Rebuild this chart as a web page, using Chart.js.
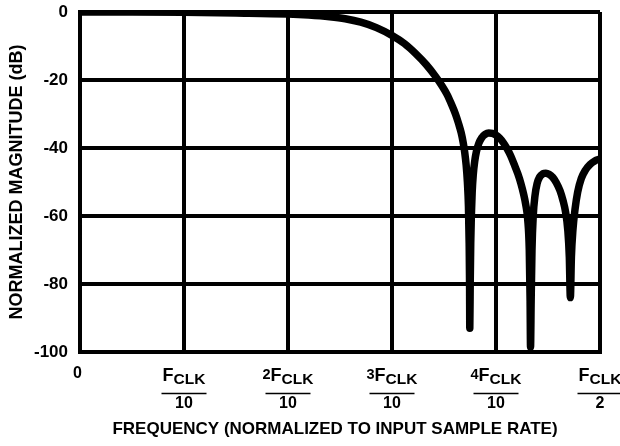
<!DOCTYPE html>
<html><head><meta charset="utf-8">
<script src="https://cdn.jsdelivr.net/npm/chart.js@4/dist/chart.umd.min.js"></script>
<style>html,body{margin:0;padding:0;background:#fff}#wrap{width:620px;height:446px}</style>
</head><body><div id="wrap"><canvas id="c" width="620" height="446"></canvas></div>
<script>
// Normalized frequency (fraction of FCLK) and magnitude in dB
const freq = [0, 0.05, 0.1, 0.15, 0.2, 0.22, 0.24, 0.255, 0.27, 0.285, 0.3, 0.312, 0.323, 0.333,
  0.342, 0.348, 0.353, 0.357, 0.361, 0.364, 0.3665, 0.3685, 0.37, 0.3713, 0.3725, 0.3735, 0.3742, 0.3746, 0.3748,
  0.3752, 0.3757, 0.3763, 0.3771, 0.3781, 0.3795, 0.3812, 0.3835, 0.3862, 0.3895, 0.393, 0.3965, 0.4, 0.4035,
  0.407, 0.4105, 0.414, 0.4175, 0.421, 0.424, 0.4265, 0.4285, 0.4305, 0.432, 0.4328, 0.4332,
  0.4338, 0.4346, 0.4358, 0.4375, 0.4395, 0.442, 0.445, 0.448, 0.451, 0.4545, 0.458, 0.4615, 0.4645, 0.467,
  0.469, 0.4705, 0.4715, 0.4725, 0.474, 0.476, 0.4785, 0.482, 0.486, 0.4905, 0.495, 0.5];
const magnitude = [0, 0, -0.1, -0.3, -0.6, -0.9, -1.4, -2.0, -3.0, -4.6, -6.9, -9.3, -12.3, -15.5,
  -19, -21.7, -24.3, -27, -30, -32.8, -35.5, -38.5, -41.5, -45, -50, -57, -68, -80, -93,
  -80, -68, -60, -53, -48, -44, -41, -38.6, -37, -36, -35.6, -35.7, -36.2, -37.1,
  -38.4, -40.1, -42.2, -44.8, -47.6, -50.5, -53.5, -56.5, -61, -70, -85, -98.5,
  -85, -70, -60, -54, -50.5, -48.5, -47.6, -47.4, -47.7, -48.6, -50.2, -52.5, -55.5, -59,
  -64, -72, -84, -72, -64, -58, -53, -49, -46.5, -44.8, -43.8, -43.2];
const yTickStep = 20;
const yMin = -100, yMax = 0;
const xTickValues = [0, 0.1, 0.2, 0.3, 0.4, 0.5];
const xTickPrefix = ['0', '', '2', '3', '4', ''];
const xTickDenominators = ['', '10', '10', '10', '10', '2'];
const xTitle = 'FREQUENCY (NORMALIZED TO INPUT SAMPLE RATE)';
const yTitle = 'NORMALIZED MAGNITUDE (dB)';

const FAM = '"Liberation Sans", Arial, Helvetica, sans-serif';

const fracLabels = {
  id: 'fracLabels',
  afterDraw(chart) {
    const ctx = chart.ctx, xs = chart.scales.x;
    ctx.save();
    ctx.fillStyle = '#000';
    ctx.strokeStyle = '#000';
    ctx.textBaseline = 'alphabetic';
    xTickValues.forEach((v, i) => {
      const cx = xs.getPixelForValue(v);
      if (xTickDenominators[i] === '') {
        ctx.font = 'bold 16px ' + FAM;
        ctx.textAlign = 'center';
        ctx.fillText(xTickPrefix[i], cx - 2.5, 378);
        return;
      }
      const pre = xTickPrefix[i];
      const fPre = 'bold 14.5px ' + FAM, fF = 'bold 18px ' + FAM, fSub = 'bold 15.5px ' + FAM;
      ctx.font = fPre; const wPre = pre ? ctx.measureText(pre).width : 0;
      ctx.font = fF; const wF = ctx.measureText('F').width;
      ctx.font = fSub; const wSub = ctx.measureText('CLK').width;
      const total = wPre + wF + wSub;
      let x = cx - total / 2;
      ctx.textAlign = 'left';
      if (pre) { ctx.font = fPre; ctx.fillText(pre, x, 379); x += wPre; }
      ctx.font = fF; ctx.fillText('F', x, 381); x += wF;
      ctx.font = fSub; ctx.fillText('CLK', x, 384);
      ctx.lineWidth = 1.5;
      ctx.beginPath();
      ctx.moveTo(cx - 22.5, 393.5); ctx.lineTo(cx + 22.5, 393.5);
      ctx.stroke();
      ctx.font = 'bold 16px ' + FAM;
      ctx.textAlign = 'center';
      ctx.fillText(xTickDenominators[i], cx, 408);
    });
    ctx.font = 'bold 17px ' + FAM;
    ctx.textAlign = 'center';
    ctx.fillText(xTitle, 335, 434);
    ctx.restore();
  }
};

new Chart(document.getElementById('c'), {
  type: 'scatter',
  data: {
    datasets: [{
      data: freq.map((f, i) => ({ x: f, y: magnitude[i] })),
      showLine: true,
      borderColor: '#000',
      borderWidth: 7.5,
      pointRadius: 0,
      cubicInterpolationMode: 'monotone',
      borderJoinStyle: 'round',
      borderCapStyle: 'butt',
      fill: false
    }]
  },
  options: {
    responsive: false,
    devicePixelRatio: 1,
    animation: false,
    layout: { padding: { top: 12, right: 20, left: 0, bottom: 0 } },
    plugins: { legend: { display: false }, tooltip: { enabled: false } },
    scales: {
      x: {
        type: 'linear', min: 0, max: 0.5,
        ticks: { stepSize: 0.1, display: false },
        grid: { color: '#000', lineWidth: 4, drawTicks: false },
        border: { color: '#000', width: 4 },
        afterFit: s => { s.height = 94; s.paddingLeft = 0; s.paddingRight = 0; }
      },
      y: {
        min: yMin, max: yMax,
        ticks: { stepSize: yTickStep, color: '#000', padding: 12, font: { family: FAM, weight: 'bold', size: 17 } },
        grid: { color: '#000', lineWidth: 4, drawTicks: false },
        border: { color: '#000', width: 4 },
        title: { display: true, text: yTitle, color: '#000', padding: { top: 6, bottom: 0 }, font: { family: FAM, weight: 'bold', size: 18 } },
        afterFit: s => { s.width = 80; s.paddingTop = 0; s.paddingBottom = 0; }
      }
    }
  },
  plugins: [fracLabels]
});
</script></body></html>
